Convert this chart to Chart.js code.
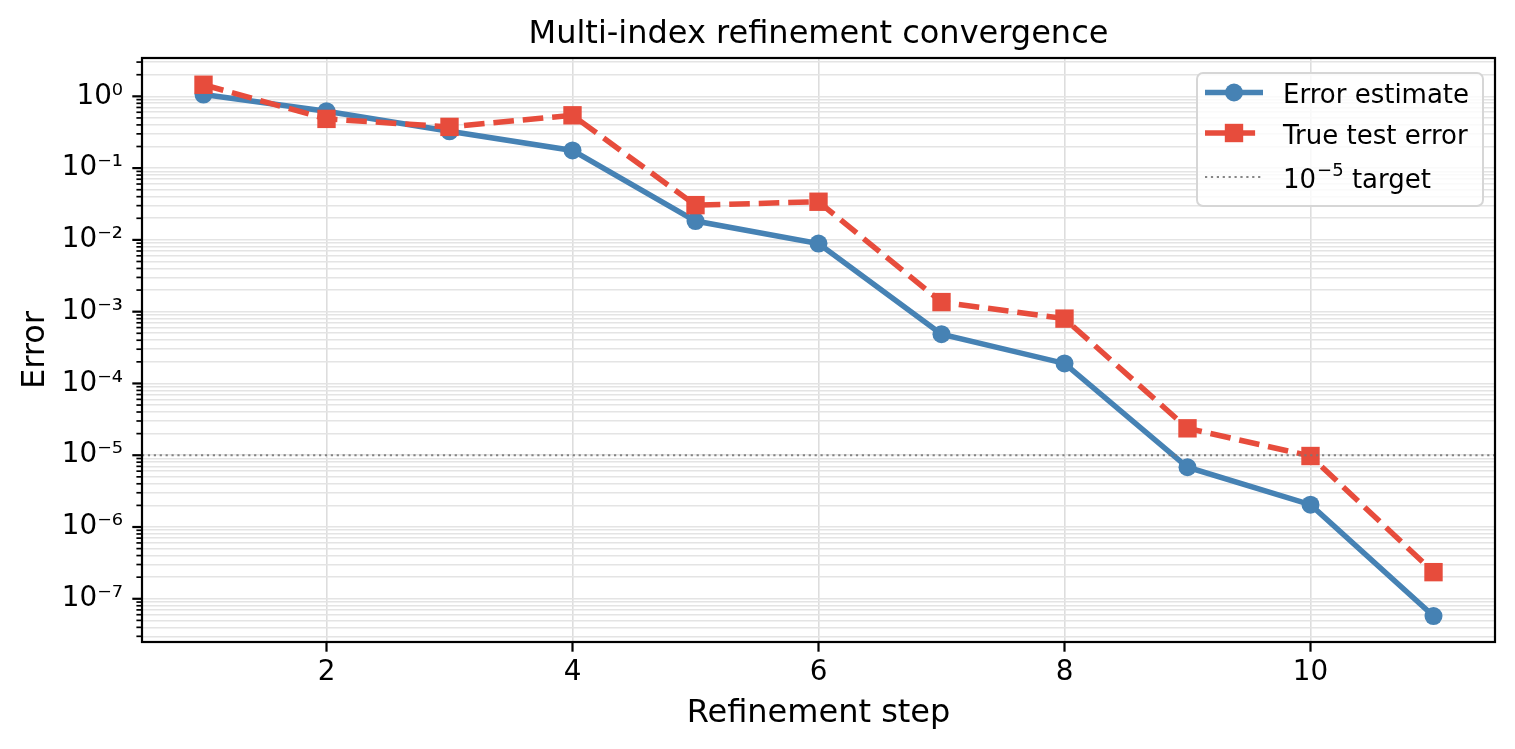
<!DOCTYPE html>
<html>
	<head>
		<title>Multi-index refinement convergence</title>
		<script src="https://cdn.jsdelivr.net/npm/chart.js"></script>
		<style>
			body{
				margin: 0;
				background-color: white;
			}
			canvas{
				display: block;
			}
		</style>
	</head>
	<body>
		<canvas id="myChart" width="1515" height="749"></canvas>
		<script>
			// values
			var steps = [1, 2, 3, 4, 5, 6, 7, 8, 9, 10, 11];
			var errorEstimate = [1.06, 0.62, 0.326, 0.176, 0.0183, 0.0089, 4.85e-4, 1.9e-4, 6.8e-6, 2.05e-6, 5.75e-8];
			var trueTestError = [1.45, 0.485, 0.375, 0.544, 0.0305, 0.034, 1.36e-3, 8.0e-4, 2.37e-5, 9.75e-6, 2.35e-7];
			var targetError = 1e-5;

			var chartTitle = "Multi-index refinement convergence";
			var seriesLabels = ["Error estimate", "True test error", "10^-5 target"];
			var xTickValues = [2, 4, 6, 8, 10];
			var yDecades = [-8, -7, -6, -5, -4, -3, -2, -1, 0];
			var xRange = [0.5, 11.5];
			var yRange = [2.5e-8, 3.42];

			var FONT = "'DejaVu Sans', sans-serif";
			var SUP = {"0": "\u2070", "1": "\u00b9", "2": "\u00b2", "3": "\u00b3", "4": "\u2074", "5": "\u2075", "6": "\u2076", "7": "\u2077", "8": "\u2078", "9": "\u2079", "-": "\u207b"};

			function pow10Label(e){
				return "10" + String(e).split("").map(function(c){ return SUP[c]; }).join("");
			}

			function toPoints(values){
				return steps.map(function(s, i){ return {x: s, y: values[i]}; });
			}

			// 1..9 x 10^k inside the axis range, the decades are major
			function logTicks(){
				var ticks = [];
				yDecades.forEach(function(e){
					for(var m = 1; m <= 9; m++){
						var v = m * Math.pow(10, e);
						if(v >= yRange[0] && v <= yRange[1]){
							ticks.push({value: v, major: m == 1});
						}
					}
				});
				return ticks;
			}

			// draws "10^-5 target" style text with a raised exponent
			function drawLabel(ctx, text, x, y, size){
				var m = text.match(/^10\^(-?\d+)(.*)$/);
				ctx.font = size + "px " + FONT;
				if(!m){
					ctx.fillText(text, x, y);
					return;
				}
				ctx.fillText("10", x, y);
				x += ctx.measureText("10").width;
				ctx.font = Math.round(size * 0.7) + "px " + FONT;
				var exp = m[1].replace("-", "\u2212");
				ctx.fillText(exp, x + 1, y - size * 0.45);
				x += ctx.measureText(exp).width + 1;
				ctx.font = size + "px " + FONT;
				ctx.fillText(m[2], x, y);
			}

			var axesPlugin = {
				id: "mplAxes",
				afterDraw: function(chart){
					var ctx = chart.ctx;
					var area = chart.chartArea;
					var xs = chart.scales.x;
					var ys = chart.scales.y;
					ctx.save();
					ctx.strokeStyle = "#000";

					// title, centred over the axes like matplotlib does
					ctx.fillStyle = "#000";
					ctx.font = "32px " + FONT;
					ctx.textAlign = "center";
					ctx.textBaseline = "alphabetic";
					ctx.fillText(chartTitle, (area.left + area.right) / 2, 43);
					ctx.textAlign = "left";

					// tick marks
					ys.ticks.forEach(function(t){
						var y = ys.getPixelForValue(t.value);
						ctx.lineWidth = t.major ? 2.2 : 1.7;
						ctx.beginPath();
						ctx.moveTo(area.left, y);
						ctx.lineTo(area.left - (t.major ? 9.7 : 5.6), y);
						ctx.stroke();
					});
					ctx.lineWidth = 2.2;
					xs.ticks.forEach(function(t){
						var x = xs.getPixelForValue(t.value);
						ctx.beginPath();
						ctx.moveTo(x, area.bottom);
						ctx.lineTo(x, area.bottom + 9.7);
						ctx.stroke();
					});

					// frame
					ctx.strokeRect(area.left, area.top, area.right - area.left, area.bottom - area.top);

					// legend
					var bw = 286, bh = 133;
					var bx = area.right - 12 - bw, by = area.top + 15;
					ctx.beginPath();
					ctx.roundRect(bx, by, bw, bh, 6);
					ctx.fillStyle = "rgba(255,255,255,0.8)";
					ctx.fill();
					ctx.lineWidth = 2;
					ctx.strokeStyle = "#d6d6d6";
					ctx.stroke();

					var rows = [19.5, 60, 104];
					chart.data.datasets.forEach(function(ds, i){
						var cy = by + rows[i];
						ctx.save();
						ctx.strokeStyle = ds.borderColor;
						ctx.lineWidth = ds.borderWidth;
						ctx.setLineDash(ds.borderDash || []);
						ctx.beginPath();
						ctx.moveTo(bx + 8, cy);
						ctx.lineTo(bx + 66, cy);
						ctx.stroke();
						ctx.restore();
						if(ds.pointRadius > 0){
							ctx.fillStyle = ds.borderColor;
							if(ds.pointStyle == "rect"){
								var h = ds.pointRadius * Math.SQRT1_2;
								ctx.fillRect(bx + 37 - h, cy - h, 2 * h, 2 * h);
							}
							else{
								ctx.beginPath();
								ctx.arc(bx + 37, cy, ds.pointRadius, 0, Math.PI * 2);
								ctx.fill();
							}
						}
						ctx.fillStyle = "#000";
						ctx.textBaseline = "alphabetic";
						drawLabel(ctx, ds.label, bx + 86, cy + 10.8, 26);
					});
					ctx.restore();
				}
			};

			var chart = new Chart(document.getElementById("myChart"), {
				type: "line",
				data: {
					datasets: [{
						label: seriesLabels[0],
						data: toPoints(errorEstimate),
						borderColor: "#4682B4",
						backgroundColor: "#4682B4",
						borderWidth: 5.5,
						pointStyle: "circle",
						pointRadius: 9,
						pointBorderWidth: 0,
						order: 3
					}, {
						label: seriesLabels[1],
						data: toPoints(trueTestError),
						borderColor: "#E74C3C",
						backgroundColor: "#E74C3C",
						borderWidth: 5.5,
						borderDash: [20.6, 8.9],
						pointStyle: "rect",
						pointRadius: 13,
						pointBorderWidth: 0,
						order: 2
					}, {
						label: seriesLabels[2],
						data: [{x: xRange[0], y: targetError}, {x: xRange[1], y: targetError}],
						borderColor: "rgba(120,120,120,0.9)",
						borderWidth: 2.2,
						borderDash: [2.2, 3.7],
						pointRadius: 0,
						order: 1
					}]
				},
				options: {
					responsive: false,
					devicePixelRatio: 1,
					animation: false,
					layout: {
						padding: {left: 0, right: 20, top: 58, bottom: 0}
					},
					plugins: {
						legend: {display: false},
						tooltip: {enabled: false},
						title: {display: false}
					},
					scales: {
						x: {
							type: "linear",
							min: xRange[0],
							max: xRange[1],
							afterBuildTicks: function(scale){
								scale.ticks = xTickValues.map(function(v){ return {value: v}; });
							},
							afterFit: function(scale){
								scale.height = 107;
							},
							grid: {color: "#dddddd", lineWidth: 1.6, drawTicks: false},
							border: {display: false},
							ticks: {
								color: "#000",
								font: {family: FONT, size: 27.8},
								padding: 14,
								maxRotation: 0,
								autoSkip: false
							},
							title: {
								display: true,
								text: "Refinement step",
								color: "#000",
								font: {family: FONT, size: 32},
								padding: {top: 0, bottom: 16}
							}
						},
						y: {
							type: "logarithmic",
							min: yRange[0],
							max: yRange[1],
							afterBuildTicks: function(scale){
								scale.ticks = logTicks();
							},
							afterFit: function(scale){
								scale.width = 142;
							},
							grid: {color: "#e4e4e4", lineWidth: 1.6, drawTicks: false},
							border: {display: false},
							ticks: {
								color: "#000",
								font: {family: FONT, size: 27.8},
								padding: 19,
								autoSkip: false,
								callback: function(value){
									var e = Math.log10(value);
									return Math.abs(e - Math.round(e)) < 1e-9 ? pow10Label(Math.round(e)) : "";
								}
							},
							title: {
								display: true,
								text: "Error",
								color: "#000",
								font: {family: FONT, size: 32},
								padding: {top: 16, bottom: 0}
							}
						}
					}
				},
				plugins: [axesPlugin]
			});
		</script>
	</body>
</html>
